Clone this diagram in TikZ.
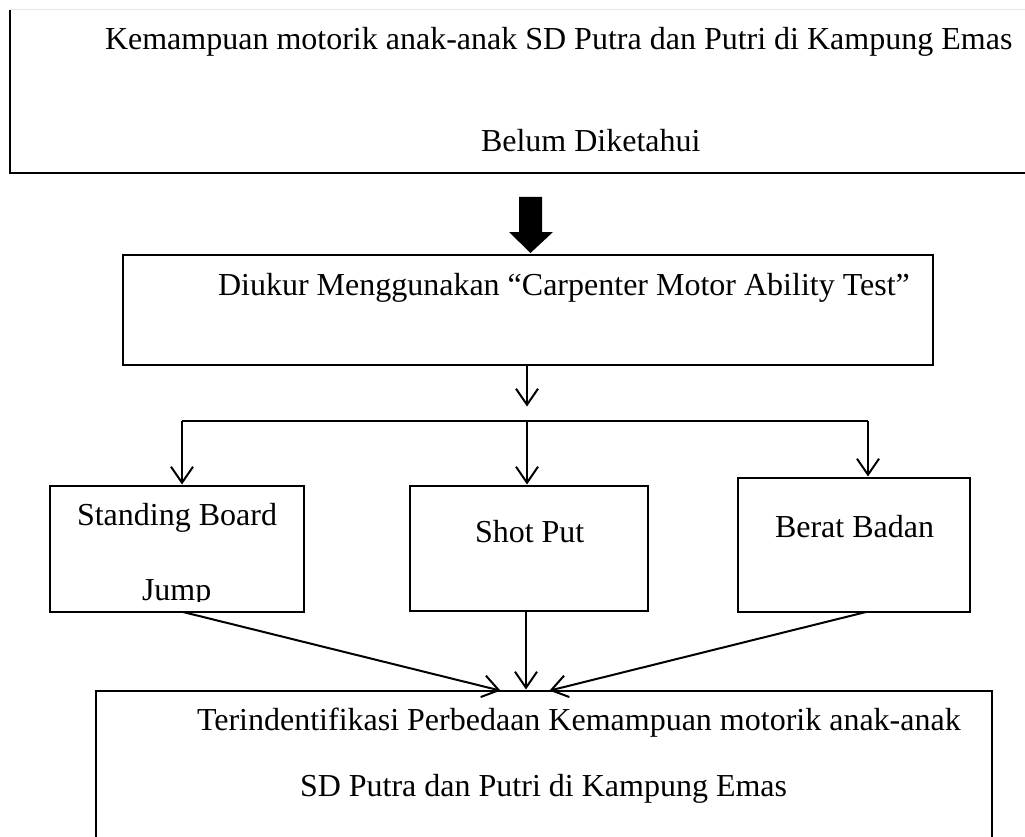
\documentclass[tikz,border=0pt]{standalone}
\usepackage{fontspec}
\setmainfont{Liberation Serif}
\usetikzlibrary{arrows.meta}
\begin{document}
\begin{tikzpicture}[x=1pt,y=-1pt,
  box/.style={draw, line width=1.3pt, inner sep=0pt, outer sep=0pt, anchor=north west},
  lbl/.style={anchor=base west, inner sep=0pt, outer sep=0pt, font=\fontsize{32}{38}\selectfont},
  conn/.style={line width=2pt, -{Straight Barb[length=16pt,width=22pt]}, shorten >=1.5pt},
  plain/.style={line width=2pt}
  ]
\useasboundingbox (0,0) rectangle (1025,837);

% top box (partly visible)
\node[inner sep=0pt, outer sep=0pt, anchor=north west, minimum width=1030pt, minimum height=163pt] (topbox) at (10,10) {};
\draw[gray!20, line width=1pt] (topbox.north west) -- (topbox.north east);
\draw[line width=2pt] (topbox.north west) -- (topbox.south west) -- (topbox.south east);
\node[lbl] (t1) at (105,50) {Kemampuan motorik anak-anak SD Putra dan Putri di Kampung Emas};
\node[lbl] (t2) at (481,152) {Belum Diketahui};

% measuring box
\node[box, minimum width=810pt, minimum height=110pt] (diukur) at (123,255) {};
\node[lbl] (dtxt) at (218,295) {Diukur Menggunakan “Carpenter Motor Ability Test”};

% thick arrow
\fill (519,197) -- (542,197) -- (542,232) -- (553,232) -- (530.5,253) -- (509,232) -- (519,232) -- cycle;

% three test boxes
\node[box, minimum width=254pt, minimum height=126pt] (sbj) at (50,486) {};
\node[box, minimum width=238pt, minimum height=125pt] (sp) at (410,486) {};
\node[box, minimum width=232pt, minimum height=134pt] (bb) at (738,478) {};
\node[lbl] (sbjtxt) at (77,525) {Standing Board};
\begin{scope}
\clip (50,486) rectangle (304,601);
\node[lbl] (jump) at (142,600) {Jump};
\end{scope}
\node[lbl] (sptxt) at (475,542) {Shot Put};
\node[lbl] (bbtxt) at (775,537) {Berat Badan};

% result box (cut by the page bottom)
\node[box, minimum width=896pt, minimum height=200pt] (res) at (96,691) {};
\node[lbl] (r1) at (197,730) {Terindentifikasi Perbedaan Kemampuan motorik anak-anak};
\node[lbl] (r2) at (300,796) {SD Putra dan Putri di Kampung Emas};

% connectors
\coordinate (split) at (527,408);
\coordinate (bl) at (182,421);
\coordinate (bm) at (527,421);
\coordinate (br) at (868,421);
\draw[conn] (diukur.south -| split) -- (split);
\draw[plain] (bl) -- (br);
\draw[conn] (bl) -- (bl |- sbj.north);
\draw[conn] (bm) -- (bm |- sp.north);
\draw[conn] (br) -- (br |- bb.north);

\coordinate (in1) at (502,691);
\coordinate (in2) at (526,691);
\coordinate (in3) at (548,691);
\draw[conn] ([xshift=6pt]sbj.south) -- (in1);
\draw[conn] (sp.south -| in2) -- (in2);
\draw[conn] ([xshift=12pt]bb.south) -- (in3);
\end{tikzpicture}
\end{document}
